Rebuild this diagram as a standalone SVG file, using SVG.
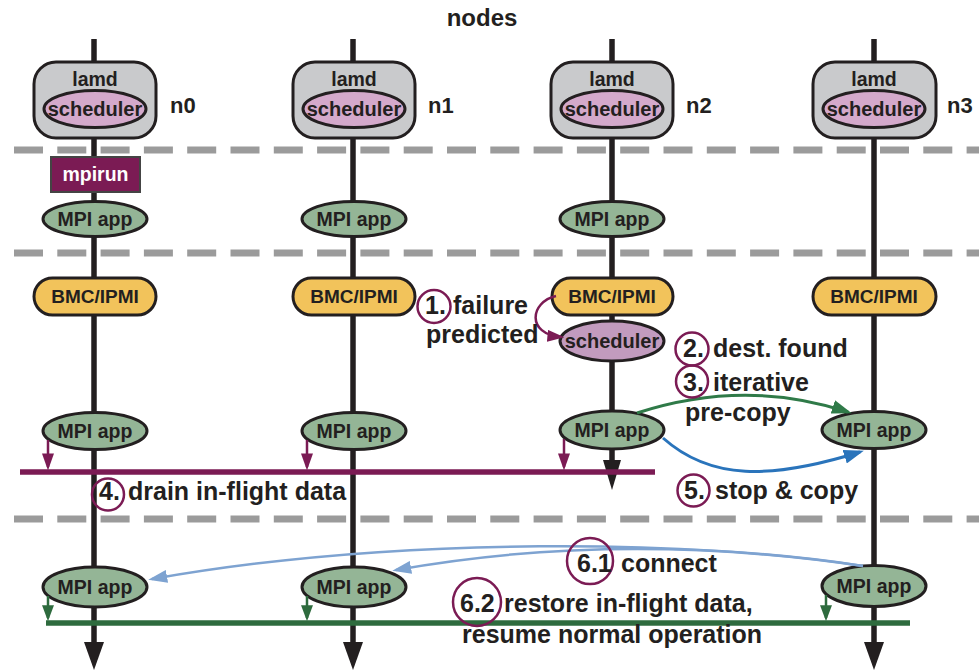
<svg xmlns="http://www.w3.org/2000/svg" width="979" height="672" viewBox="0 0 979 672">
  <defs>
    <style>
      text { font-family: "Liberation Sans", Arial, Helvetica, sans-serif; font-weight: bold; fill: #231f20; }
      .lbl { font-size: 19.5px; text-anchor: middle; }
      .nid { font-size: 22px; }
      .ann { font-size: 25px; }
      .lamd { fill: #c9cacc; stroke: #231f20; stroke-width: 3; }
      .sched { fill: #d4a9cb; stroke: #231f20; stroke-width: 3; }
      .sched2 { fill: #c29bbe; stroke: #231f20; stroke-width: 3; }
      .app { fill: #94b596; stroke: #231f20; stroke-width: 3; }
      .bmc { fill: #f2c35b; stroke: #231f20; stroke-width: 3; }
      .mpirun { fill: #7b1b54; stroke: #444; stroke-width: 2; }
      .sep { stroke: #9b9b9b; stroke-width: 7; stroke-dasharray: 29 14.3; fill: none; }
      .life { stroke: #231f20; stroke-width: 5.5; fill: none; }
      .bar-p { stroke: #7b1b54; stroke-width: 5.5; fill: none; }
      .bar-g { stroke: #2e6b3e; stroke-width: 5.5; fill: none; }
      .num { fill: none; stroke: #7b1b54; stroke-width: 2.5; }
    </style>
    <marker id="ah-black" viewBox="0 0 28 20" refX="8" refY="10" markerWidth="28" markerHeight="20" markerUnits="userSpaceOnUse" orient="auto">
      <path d="M0 0 L28 10 L0 20 Z" fill="#231f20"/>
    </marker>
    <marker id="ah-black-s" viewBox="0 0 30 18" refX="10" refY="9" markerWidth="30" markerHeight="18" markerUnits="userSpaceOnUse" orient="auto">
      <path d="M0 0 L30 9 L0 18 Z" fill="#231f20"/>
    </marker>
    <marker id="ah-purple" viewBox="0 0 10 10" refX="8" refY="5" markerWidth="17" markerHeight="12" markerUnits="userSpaceOnUse" orient="auto" preserveAspectRatio="none">
      <path d="M0 0 L10 5 L0 10 Z" fill="#7b1b54"/>
    </marker>
    <marker id="ah-green" viewBox="0 0 10 10" refX="8" refY="5" markerWidth="16" markerHeight="12" markerUnits="userSpaceOnUse" orient="auto" preserveAspectRatio="none">
      <path d="M0 0 L10 5 L0 10 Z" fill="#2e6b3e"/>
    </marker>
    <marker id="ah-copy" viewBox="0 0 10 10" refX="8" refY="5" markerWidth="20" markerHeight="14" markerUnits="userSpaceOnUse" orient="auto" preserveAspectRatio="none">
      <path d="M0 0 L10 5 L0 10 Z" fill="#2f7a48"/>
    </marker>
    <marker id="ah-blue" viewBox="0 0 10 10" refX="8" refY="5" markerWidth="20" markerHeight="14" markerUnits="userSpaceOnUse" orient="auto" preserveAspectRatio="none">
      <path d="M0 0 L10 5 L0 10 Z" fill="#2a74bb"/>
    </marker>
    <marker id="ah-lblue" viewBox="0 0 10 10" refX="8" refY="5" markerWidth="19" markerHeight="13" markerUnits="userSpaceOnUse" orient="auto" preserveAspectRatio="none">
      <path d="M0 0 L10 5 L0 10 Z" fill="#7ea3d1"/>
    </marker>
  </defs>

  <rect width="979" height="672" fill="#ffffff"/>

  <text x="482" y="26" style="font-size:24px" text-anchor="middle">nodes</text>

  <!-- layer separators -->
  <g id="separators">
    <line class="sep" x1="14" y1="150" x2="979" y2="150"/>
    <line class="sep" x1="14" y1="253" x2="979" y2="253"/>
    <line class="sep" x1="14" y1="519" x2="979" y2="519"/>
  </g>

  <!-- node lifelines -->
  <g id="lifelines">
    <line class="life" x1="94" y1="39" x2="94" y2="650" marker-end="url(#ah-black)"/>
    <line class="life" x1="353" y1="39" x2="353" y2="650" marker-end="url(#ah-black)"/>
    <line class="life" x1="612" y1="39" x2="612" y2="470" marker-end="url(#ah-black-s)"/>
    <line class="life" x1="874" y1="39" x2="874" y2="650" marker-end="url(#ah-black)"/>
  </g>

  <!-- drain / restore bars -->
  <g id="bars">
    <line class="bar-p" x1="20" y1="472" x2="655" y2="472"/>
    <line class="bar-g" x1="46" y1="623" x2="910" y2="623"/>
  </g>

  <!-- node n0 -->
  <g id="n0">
    <g id="n0-lamd">
      <rect class="lamd" x="34" y="62" width="122" height="76" rx="22"/>
      <text class="lbl" x="95" y="86">lamd</text>
      <ellipse class="sched" cx="95" cy="109" rx="51" ry="18.5"/>
      <text class="lbl" x="95" y="116" style="font-size:20px">scheduler</text>
    </g>
    <text class="nid" x="170" y="113">n0</text>
    <g id="n0-mpirun">
      <rect class="mpirun" x="51" y="157" width="89" height="35"/>
      <text class="lbl" x="95.5" y="181" style="fill:#ffffff">mpirun</text>
    </g>
    <g id="n0-app1">
      <ellipse class="app" cx="95" cy="219" rx="52" ry="17.5"/>
      <text class="lbl" x="95" y="226">MPI app</text>
    </g>
    <g id="n0-bmc">
      <rect class="bmc" x="34" y="278" width="122" height="37" rx="18.5"/>
      <text class="lbl" x="95" y="303" style="font-size:19px">BMC/IPMI</text>
    </g>
    <g id="n0-app2">
      <ellipse class="app" cx="95" cy="431" rx="52" ry="18.5"/>
      <text class="lbl" x="95" y="438">MPI app</text>
    </g>
    <g id="n0-app3">
      <ellipse class="app" cx="95" cy="587" rx="52" ry="20"/>
      <text class="lbl" x="95" y="594">MPI app</text>
    </g>
  </g>

  <!-- node n1 -->
  <g id="n1">
    <g id="n1-lamd">
      <rect class="lamd" x="293" y="62" width="122" height="76" rx="22"/>
      <text class="lbl" x="354" y="86">lamd</text>
      <ellipse class="sched" cx="354" cy="109" rx="51" ry="18.5"/>
      <text class="lbl" x="354" y="116" style="font-size:20px">scheduler</text>
    </g>
    <text class="nid" x="428" y="113">n1</text>
    <g id="n1-app1">
      <ellipse class="app" cx="354" cy="219" rx="52" ry="17.5"/>
      <text class="lbl" x="354" y="226">MPI app</text>
    </g>
    <g id="n1-bmc">
      <rect class="bmc" x="293" y="278" width="122" height="37" rx="18.5"/>
      <text class="lbl" x="354" y="303" style="font-size:19px">BMC/IPMI</text>
    </g>
    <g id="n1-app2">
      <ellipse class="app" cx="354" cy="431" rx="52" ry="18.5"/>
      <text class="lbl" x="354" y="438">MPI app</text>
    </g>
    <g id="n1-app3">
      <ellipse class="app" cx="354" cy="587" rx="52" ry="20"/>
      <text class="lbl" x="354" y="594">MPI app</text>
    </g>
  </g>

  <!-- node n2 -->
  <g id="n2">
    <g id="n2-lamd">
      <rect class="lamd" x="551" y="62" width="122" height="76" rx="22"/>
      <text class="lbl" x="612" y="86">lamd</text>
      <ellipse class="sched" cx="612" cy="109" rx="51" ry="18.5"/>
      <text class="lbl" x="612" y="116" style="font-size:20px">scheduler</text>
    </g>
    <text class="nid" x="686" y="113">n2</text>
    <g id="n2-app1">
      <ellipse class="app" cx="612" cy="219" rx="52" ry="17.5"/>
      <text class="lbl" x="612" y="226">MPI app</text>
    </g>
    <g id="n2-bmc">
      <rect class="bmc" x="552" y="278" width="121" height="37" rx="18.5"/>
      <text class="lbl" x="612" y="303" style="font-size:19px">BMC/IPMI</text>
    </g>
    <g id="n2-sched">
      <ellipse class="sched2" cx="612" cy="341" rx="52" ry="20"/>
      <text class="lbl" x="612" y="348" style="font-size:20px">scheduler</text>
    </g>
    <g id="n2-app2">
      <ellipse class="app" cx="612" cy="430" rx="52" ry="19"/>
      <text class="lbl" x="612" y="437">MPI app</text>
    </g>
  </g>

  <!-- node n3 -->
  <g id="n3">
    <g id="n3-lamd">
      <rect class="lamd" x="813" y="62" width="123" height="76" rx="22"/>
      <text class="lbl" x="874" y="86">lamd</text>
      <ellipse class="sched" cx="874" cy="109" rx="51" ry="18.5"/>
      <text class="lbl" x="874" y="116" style="font-size:20px">scheduler</text>
    </g>
    <text class="nid" x="947" y="113">n3</text>
    <g id="n3-bmc">
      <rect class="bmc" x="813" y="278" width="123" height="37" rx="18.5"/>
      <text class="lbl" x="874" y="303" style="font-size:19px">BMC/IPMI</text>
    </g>
    <g id="n3-app2">
      <ellipse class="app" cx="874" cy="430" rx="52" ry="18.5"/>
      <text class="lbl" x="874" y="437">MPI app</text>
    </g>
    <g id="n3-app3">
      <ellipse class="app" cx="874" cy="586" rx="52" ry="20.5"/>
      <text class="lbl" x="874" y="593">MPI app</text>
    </g>
  </g>

  <!-- connectors -->
  <g id="connectors" fill="none">
    <!-- failure prediction hand-off -->
    <path d="M556 296 C530 302, 526 334, 561 337" stroke="#7b1b54" stroke-width="2.5" marker-end="url(#ah-purple)"/>
    <!-- drain arrows -->
    <path d="M48 440 L48 467" stroke="#7b1b54" stroke-width="2.5" marker-end="url(#ah-purple)"/>
    <path d="M307 440 L307 467" stroke="#7b1b54" stroke-width="2.5" marker-end="url(#ah-purple)"/>
    <path d="M564 439 L564 467" stroke="#7b1b54" stroke-width="2.5" marker-end="url(#ah-purple)"/>
    <!-- pre-copy and stop & copy -->
    <path d="M637 413 Q745 378 848 412" stroke="#2f7a48" stroke-width="3" marker-end="url(#ah-copy)"/>
    <path d="M663 438 C710 480, 770 480, 860 452" stroke="#2a74bb" stroke-width="3" marker-end="url(#ah-blue)"/>
    <!-- reconnect -->
    <path d="M863 566 C700 540, 400 535, 152 579" stroke="#7ea3d1" stroke-width="2.5" marker-end="url(#ah-lblue)"/>
    <path d="M863 566 Q620 530 396 570" stroke="#7ea3d1" stroke-width="2.5" marker-end="url(#ah-lblue)"/>
    <!-- restore arrows -->
    <path d="M48 596 L48 618" stroke="#2e6b3e" stroke-width="2.5" marker-end="url(#ah-green)"/>
    <path d="M307 596 L307 618" stroke="#2e6b3e" stroke-width="2.5" marker-end="url(#ah-green)"/>
    <path d="M826 595 L826 618" stroke="#2e6b3e" stroke-width="2.5" marker-end="url(#ah-green)"/>
  </g>

  <!-- step annotations -->
  <g id="steps">
    <circle class="num" cx="434" cy="306.5" r="16.5"/>
    <text class="ann" x="425" y="314">1.</text>
    <text class="ann" x="453" y="314">failure</text>
    <text class="ann" x="426" y="343">predicted</text>

    <circle class="num" cx="692" cy="349" r="16.5"/>
    <text class="ann" x="683" y="357">2.</text>
    <text class="ann" x="713" y="357">dest. found</text>

    <circle class="num" cx="692" cy="381.5" r="16"/>
    <text class="ann" x="683" y="391">3.</text>
    <text class="ann" x="713" y="391">iterative</text>
    <text class="ann" x="685" y="421">pre-copy</text>

    <circle class="num" cx="108" cy="494.5" r="16"/>
    <text class="ann" x="99" y="500">4.</text>
    <text class="ann" x="128" y="500">drain in-flight data</text>

    <circle class="num" cx="693.5" cy="490.5" r="16"/>
    <text class="ann" x="684" y="499">5.</text>
    <text class="ann" x="715" y="499">stop &amp; copy</text>

    <circle class="num" cx="590" cy="561" r="23"/>
    <text class="ann" x="577" y="572">6.1</text>
    <text class="ann" x="621" y="572">connect</text>

    <circle class="num" cx="477" cy="602" r="24"/>
    <text class="ann" x="460" y="612">6.2</text>
    <text class="ann" x="504" y="612">restore in-flight data,</text>
    <text class="ann" x="462" y="643">resume normal operation</text>
  </g>
</svg>
